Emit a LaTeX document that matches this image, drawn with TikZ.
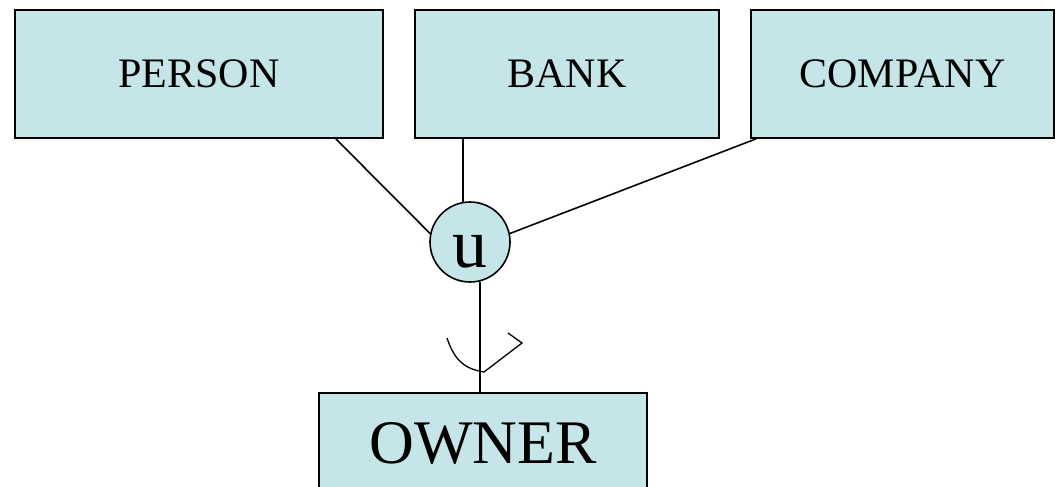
\documentclass[tikz,border=0pt]{standalone}
\usepackage{fontspec}
\setmainfont{Liberation Serif}
\definecolor{boxfill}{RGB}{198,229,232}
\begin{document}
\begin{tikzpicture}[x=1pt,y=-1pt,line width=1.6pt,
	entity/.style={draw,fill=boxfill,inner sep=0pt,minimum height=128pt,font=\fontsize{42}{50}\selectfont},
	unioncircle/.style={draw,fill=boxfill,circle,inner sep=0pt,minimum size=80pt,font=\fontsize{70}{76}\selectfont,text height=50pt,text depth=0pt}]
			\useasboundingbox (0,0) rectangle (1055,487);
			\clip (0,0) rectangle (1055,487);
			\node[entity,minimum width=368pt] (person) at (199,74) {PERSON};
			\node[entity,minimum width=304pt] (bank) at (567,74) {BANK};
			\node[entity,minimum width=303pt] (company) at (902.5,74) {COMPANY};
			\node[unioncircle] (u) at (470,242) {u};
			\node[entity,minimum width=328pt,minimum height=100pt,font=\fontsize{62}{70}\selectfont] (owner) at (483,443) {OWNER};
			\draw ([xshift=-48pt]person.south east) -- (u.168);
			\draw (u.100 |- bank.south) -- (u.100);
			\draw ([xshift=6pt]company.south west) -- (u.12);
			\draw (u.-76) -- (u.-76 |- owner.north);
			\draw[line width=1.3pt] (447,338) .. controls (455,362) and (466,369) .. (484,372) -- (522,343) -- (508,333);
\end{tikzpicture}
\end{document}
